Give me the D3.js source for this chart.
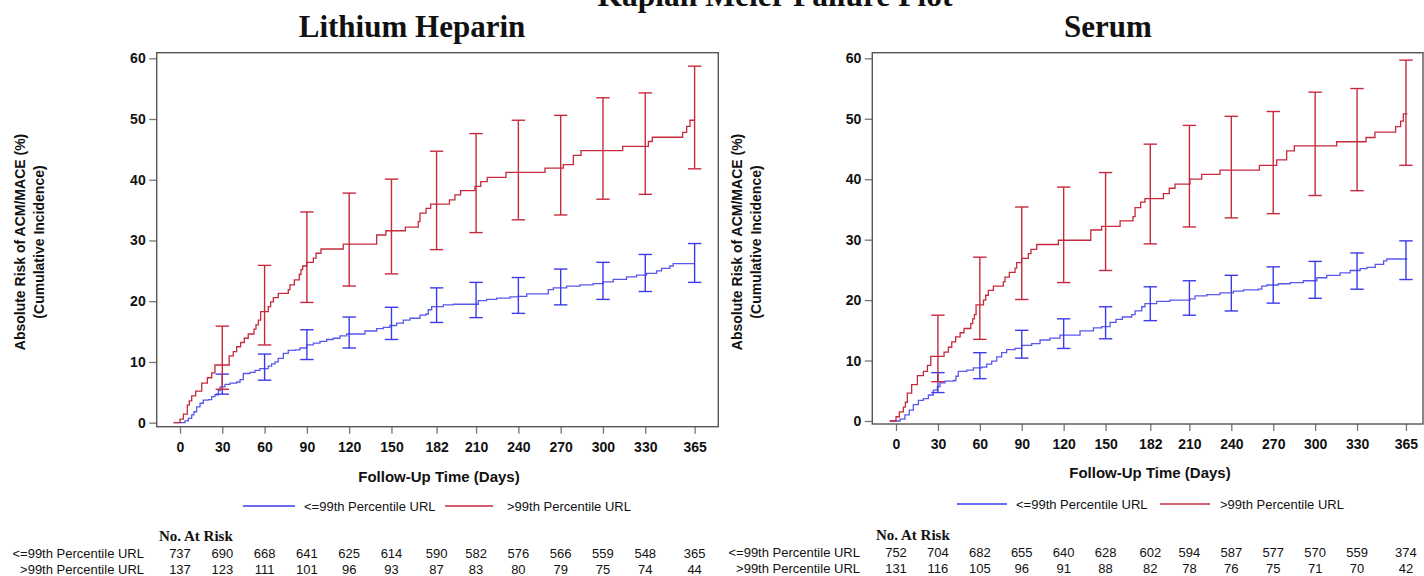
<!DOCTYPE html>
<html><head><meta charset="utf-8">
<script src="https://cdn.jsdelivr.net/npm/d3@7"></script>
<style>
body{margin:0;background:#fff}
svg{display:block}
text{font-family:"Liberation Sans",Arial,sans-serif;fill:#111}
</style>
</head><body>
<svg id="chart" width="1424" height="576"></svg>
<script>
// ---------- data ----------
const mainTitle = "Kaplan Meier Failure Plot";
const panelTitles = ["Lithium Heparin", "Serum"];
const seriesNames = ["<=99th Percentile URL", ">99th Percentile URL"];
const yAxisTitle = ["Absolute Risk of ACM/MACE (%)", "(Cumulative Incidence)"];
const xAxisTitle = "Follow-Up Time (Days)";
const atRiskTitle = "No. At Risk";
const timeTicks = [0, 30, 60, 90, 120, 150, 182, 210, 240, 270, 300, 330, 365];
const yTicks = [0, 10, 20, 30, 40, 50, 60];
const ciDays = [30, 60, 90, 120, 150, 182, 210, 240, 270, 300, 330, 365];

// Lithium Heparin: cumulative incidence steps [day, %]
const lhLowCurve = [[-4.5,0],[1.2,0],[3.5,0.3],[5.9,0.7],[8.3,1.3],[9.9,1.8],[11.8,2.6],[14.2,3.2],[16.5,3.7],[20.1,3.8],[22.5,4.3],[24.8,4.6],[27.2,5.3],[28.4,5.9],[31.9,6.3],[35.5,6.5],[40.2,6.7],[42.6,7.1],[44.9,8.1],[49.6,8.3],[53.2,8.6],[56.7,8.9],[62.6,9.3],[65,9.7],[67.4,10.0],[69.7,10.6],[73.3,11.4],[76.8,11.9],[81.6,12.0],[85.1,12.3],[89.8,12.8],[94.6,13.1],[99.3,13.4],[104,13.7],[108.7,13.9],[113.5,14.3],[118.2,14.6],[131.2,15.1],[139.5,15.5],[144.2,15.7],[148.9,16.0],[153.7,16.4],[158.4,16.9],[163.1,17.2],[170.2,17.7],[174.5,17.9],[176.1,18.6],[178.5,19.1],[186.8,19.4],[193.9,19.5],[211.6,20.1],[217.5,20.3],[224.6,20.5],[234,20.7],[239.9,20.8],[245.9,21.2],[261.2,21.9],[264.8,22.2],[274.2,22.5],[283.7,22.7],[293.1,22.9],[300.2,23.2],[307.3,23.6],[316.7,24.0],[323.8,24.3],[330.9,24.6],[338,25.0],[341.5,25.4],[347.4,25.8],[349.8,26.2],[365.2,26.2]];
const lhHighCurve = [[-4.5,0],[0,0.6],[2.4,1.4],[5.2,2.9],[6.6,3.6],[8.3,4.4],[11.1,5.2],[15.4,6.5],[19.4,7.4],[22.5,8.2],[24.8,9.5],[34.9,11.0],[37.8,11.7],[40.2,12.5],[43,13.2],[45.6,13.9],[48.4,14.6],[52.5,15.4],[53.9,16.1],[55.6,16.9],[57.2,18.3],[62.6,19.1],[64.3,19.9],[66.2,20.6],[69.7,21.3],[76.8,21.9],[78,22.7],[81.1,23.5],[84.6,24.4],[85.8,25.2],[87,25.8],[89.8,26.4],[94.6,27.1],[96.5,27.9],[100,28.6],[115.8,29.4],[139.5,30.9],[146,31.6],[159.8,32.2],[169,33.1],[170.2,34.5],[174.5,35.3],[177.8,36.0],[191.1,36.7],[195,37.5],[199,38.2],[209.2,38.9],[213.3,39.7],[217.9,40.4],[231.2,41.2],[258.9,41.9],[271.9,42.5],[279,44.0],[284.4,44.8],[314,45.5],[332.2,46.3],[335,47.0],[356.5,47.8],[359.4,48.8],[361.7,49.8],[365.2,49.8]];
const lhLowCiLo  = [4.7, 7.0, 10.4, 12.3, 13.7, 16.5, 17.3, 18.0, 19.4, 20.3, 21.6, 23.1];
const lhLowCiHi  = [8.0, 11.3, 15.3, 17.4, 19.0, 22.2, 23.1, 23.9, 25.3, 26.4, 27.7, 29.5];
const lhHighCiLo = [5.5, 12.8, 19.8, 22.5, 24.5, 28.5, 31.3, 33.4, 34.2, 36.8, 37.6, 41.8];
const lhHighCiHi = [15.9, 25.9, 34.7, 37.8, 40.1, 44.7, 47.6, 49.8, 50.6, 53.5, 54.3, 58.7];
const lhLowAtRisk  = [737, 690, 668, 641, 625, 614, 590, 582, 576, 566, 559, 548, 365];
const lhHighAtRisk = [137, 123, 111, 101, 96, 93, 87, 83, 80, 79, 75, 74, 44];

// Serum
const seLowCurve = [[-4.5,0],[0,0],[2.9,0.3],[6.4,1.0],[9.5,1.8],[12.4,2.7],[16,3.4],[19.6,3.7],[23.2,4.3],[26.7,5.1],[29.6,5.7],[31.5,6.3],[35.1,6.6],[41,6.7],[42.9,7.4],[44.6,8.2],[50.6,8.4],[55.4,8.8],[61.4,8.9],[64.9,9.4],[68.5,9.9],[72.1,10.6],[75.6,11.3],[79.2,11.8],[85.2,12.0],[89.9,12.5],[97.1,12.8],[103.1,13.4],[110.2,13.7],[117.4,14.2],[131.7,14.9],[141.3,15.4],[147.2,15.6],[153.2,16.3],[157.5,16.8],[162,17.2],[168.7,17.6],[171.1,18.2],[175.9,18.9],[178.2,19.4],[186.6,19.8],[196.1,20.0],[210.4,20.2],[214,20.7],[222.4,20.9],[231.9,21.2],[241.5,21.5],[248.7,21.7],[259.4,21.8],[261.8,22.3],[265.4,22.5],[273.7,22.7],[282.1,22.9],[291.6,23.2],[301.2,23.7],[308.3,24.1],[317.9,24.5],[325.1,24.9],[332.2,25.2],[337,25.4],[343,25.9],[349,26.5],[351.3,26.8],[366,26.8]];
const seHighCurve = [[-4.5,0],[0,0.7],[2.4,1.5],[5.3,2.3],[6.7,3.1],[8.1,4.6],[11.2,6.0],[15.3,7.5],[19.6,8.2],[22.5,9.2],[24.9,10.7],[34.4,11.4],[37.5,12.2],[39.9,13.1],[42.7,13.9],[45.9,14.6],[48.7,15.3],[53.5,16.1],[54.9,16.9],[56.1,17.6],[57.3,19.2],[62.6,20.0],[64.2,20.8],[66.1,21.6],[69.7,22.3],[76.8,23.0],[78,23.8],[81.1,24.6],[85.2,25.3],[86.4,26.2],[89.9,26.9],[94.7,27.7],[96.6,28.4],[100.7,29.2],[116.2,29.9],[139.4,31.6],[147.2,32.2],[160.4,33.1],[169.6,33.8],[171.1,35.3],[175.1,36.2],[178.2,36.8],[191.4,37.6],[195.6,38.5],[199.7,39.2],[210.4,40.0],[218.8,40.8],[231.9,41.5],[260.1,42.3],[272.5,43.2],[279.6,44.7],[285.1,45.5],[315.4,46.2],[336.4,46.9],[342.8,47.8],[357.6,48.7],[361.2,49.6],[363.1,50.8],[366,50.8]];
const seLowCiLo  = [4.7, 7.0, 10.4, 12.0, 13.6, 16.6, 17.5, 18.2, 19.5, 20.3, 21.8, 23.4];
const seLowCiHi  = [8.0, 11.3, 15.0, 16.9, 18.9, 22.2, 23.2, 24.1, 25.5, 26.4, 27.8, 29.8];
const seHighCiLo = [6.5, 13.5, 20.1, 22.9, 24.9, 29.3, 32.1, 33.6, 34.3, 37.3, 38.1, 42.3];
const seHighCiHi = [17.5, 27.1, 35.4, 38.7, 41.1, 45.8, 48.9, 50.4, 51.2, 54.4, 55.0, 59.7];
const seLowAtRisk  = [752, 704, 682, 655, 640, 628, 602, 594, 587, 577, 570, 559, 374];
const seHighAtRisk = [131, 116, 105, 96, 91, 88, 82, 78, 76, 75, 71, 70, 42];

const colors = ["#3b3bea", "#c62a3c"];

// ---------- drawing ----------
const svg = d3.select("#chart");
svg.append("rect").attr("width", 1424).attr("height", 576).attr("fill", "#fff");

svg.append("text").attr("x", 775).attr("y", 6).attr("text-anchor", "middle")
  .style("font-family", '"Liberation Serif","Times New Roman",serif')
  .style("font-weight", "bold").style("font-size", "31.5px").text(mainTitle);

function drawPanel(cfg) {
  const g = svg.append("g");
  const x = d3.scaleLinear().domain(cfg.xDomain).range([cfg.left, cfg.right]);
  const y = d3.scaleLinear().domain(cfg.yDomain).range([cfg.bottom, cfg.top]);

  // title
  g.append("text").attr("x", cfg.titleX).attr("y", 37).attr("text-anchor", "middle")
    .style("font-family", '"Liberation Serif","Times New Roman",serif')
    .style("font-weight", "bold").style("font-size", "31px").text(cfg.title);

  // y axis
  const ya = g.append("g").attr("transform", `translate(${cfg.left},0)`)
    .call(d3.axisLeft(y).tickValues(yTicks).tickSize(7.5).tickPadding(3.5));
  ya.select(".domain").remove();
  ya.selectAll(".tick line").attr("stroke", "#777").attr("stroke-width", 1.3);
  ya.selectAll(".tick text").style("font-size", "14px").style("font-weight", "bold")
    .style("font-family", '"Liberation Sans",Arial,sans-serif').attr("fill", "#111");

  // x axis
  const xa = g.append("g").attr("transform", `translate(0,${cfg.bottom})`)
    .call(d3.axisBottom(x).tickValues(timeTicks).tickSize(7).tickPadding(8));
  xa.select(".domain").remove();
  xa.selectAll(".tick line").attr("stroke", "#777").attr("stroke-width", 1.3);
  xa.selectAll(".tick text").style("font-size", "14px").style("font-weight", "bold")
    .style("font-family", '"Liberation Sans",Arial,sans-serif').attr("fill", "#111");

  // frame
  g.append("rect").attr("x", cfg.left).attr("y", cfg.top)
    .attr("width", cfg.right - cfg.left).attr("height", cfg.bottom - cfg.top)
    .attr("fill", "none").attr("stroke", "#555").attr("stroke-width", 1.4);

  // axis titles
  const yl = g.append("text").attr("transform", `translate(${cfg.yLabelX},242) rotate(-90)`)
    .attr("text-anchor", "middle").style("font-size", "14px").style("font-weight", "bold");
  yl.append("tspan").attr("x", 0).attr("dy", 0).text(yAxisTitle[0]);
  yl.append("tspan").attr("x", 0).attr("dy", 19).text(yAxisTitle[1]);

  g.append("text").attr("x", cfg.xTitleX).attr("y", cfg.xTitleY).attr("text-anchor", "middle")
    .style("font-size", "15px").style("font-weight", "bold").text(xAxisTitle);

  // curves
  const line = d3.line().x(d => x(d[0])).y(d => y(d[1])).curve(d3.curveStepAfter);
  const capHalf = 6.7;
  cfg.series.forEach((s, i) => {
    g.append("path").datum(s.curve).attr("d", line)
      .attr("fill", "none").attr("stroke", colors[i]).attr("stroke-width", 1.3)
      .attr("stroke-opacity", i === 0 ? 0.85 : 1);
    const eb = g.append("g").attr("stroke", colors[i]).attr("stroke-width", 1.4);
    ciDays.forEach((d, k) => {
      const cx = x(d), y0 = y(s.lo[k]), y1 = y(s.hi[k]);
      eb.append("line").attr("x1", cx).attr("x2", cx).attr("y1", y0).attr("y2", y1);
      eb.append("line").attr("x1", cx - capHalf).attr("x2", cx + capHalf).attr("y1", y0).attr("y2", y0);
      eb.append("line").attr("x1", cx - capHalf).attr("x2", cx + capHalf).attr("y1", y1).attr("y2", y1);
    });
  });

  // legend
  const lg = g.append("g");
  cfg.legend.forEach((L, i) => {
    lg.append("line").attr("x1", L.x0).attr("x2", L.x1).attr("y1", cfg.legendY).attr("y2", cfg.legendY)
      .attr("stroke", colors[i]).attr("stroke-width", 1.3);
    lg.append("text").attr("x", L.tx).attr("y", cfg.legendY + 4.5)
      .style("font-size", "13px").text(seriesNames[i]);
  });

  // at risk table
  g.append("text").attr("x", cfg.atRiskX).attr("y", cfg.tableY)
    .style("font-family", '"Liberation Serif","Times New Roman",serif')
    .style("font-weight", "bold").style("font-size", "15px").text(atRiskTitle);
  cfg.series.forEach((s, i) => {
    const ry = cfg.tableY + 16.5 * (i + 1);
    g.append("text").attr("x", cfg.rowLabelX).attr("y", ry).attr("text-anchor", "end")
      .style("font-size", "13px").text(seriesNames[i]);
    g.selectAll(null).data(s.atRisk).enter().append("text")
      .attr("x", (v, k) => x(timeTicks[k])).attr("y", ry).attr("text-anchor", "middle")
      .style("font-size", "13px").text(v => v);
  });
}

drawPanel({
  title: panelTitles[0], titleX: 412,
  left: 156.7, right: 718.3, top: 52.7, bottom: 426.7,
  xDomain: [-16.52, 381.8], yDomain: [-0.66, 60.92],
  yLabelX: 25, xTitleX: 439, xTitleY: 482,
  legendY: 506,
  legend: [{x0: 243, x1: 295, tx: 304}, {x0: 445, x1: 493, tx: 507}],
  atRiskX: 159, tableY: 541, rowLabelX: 144,
  series: [
    {curve: lhLowCurve, lo: lhLowCiLo, hi: lhLowCiHi, atRisk: lhLowAtRisk},
    {curve: lhHighCurve, lo: lhHighCiLo, hi: lhHighCiHi, atRisk: lhHighAtRisk}
  ]
});

drawPanel({
  title: panelTitles[1], titleX: 1108,
  left: 872.3, right: 1423, top: 52.7, bottom: 424,
  xDomain: [-16.97, 377.2], yDomain: [-0.5, 60.93],
  yLabelX: 742, xTitleX: 1150, xTitleY: 478,
  legendY: 504,
  legend: [{x0: 957, x1: 1007, tx: 1016}, {x0: 1160, x1: 1210, tx: 1220}],
  atRiskX: 876, tableY: 540, rowLabelX: 860,
  series: [
    {curve: seLowCurve, lo: seLowCiLo, hi: seLowCiHi, atRisk: seLowAtRisk},
    {curve: seHighCurve, lo: seHighCiLo, hi: seHighCiHi, atRisk: seHighAtRisk}
  ]
});
</script>
</body></html>
